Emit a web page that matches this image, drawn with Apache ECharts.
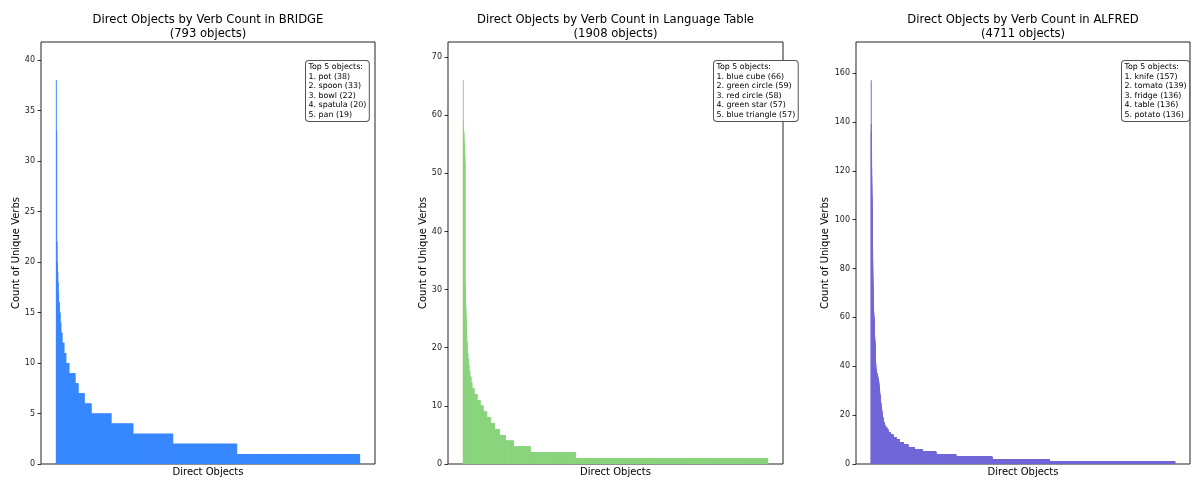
<!DOCTYPE html>
<html><head><meta charset="utf-8">
<script src="https://cdn.jsdelivr.net/npm/echarts@6/dist/echarts.min.js"></script>
<style>html,body{margin:0;padding:0;background:#fff}#c{width:1192px;height:482px}</style>
</head><body><div id="c"></div>
<script>
// ---- Data (run-length: each level repeated "count" times, sorted descending) ----
const bridgeLevels = [38,33,22,20,19,18,17,16,15,14,13,12,11,10,9,8,7,6,5,4,3,2,1];
const bridgeCounts = [1,1,1,1,1,1,1,2,2,2,3,5,5,8,16,8,16,18,52,57,104,167,321];

const langLevels = [66,59,58,57,56,55,54,53,52,31,30,29,28,27,26,25,24,23,22,21,20,19,18,17,16,15,14,13,12,11,10,9,8,7,6,5,4,3,2,1];
const langCounts = [1,1,1,2,1,3,1,1,1,1,1,1,1,1,1,1,1,2,1,2,2,3,4,3,5,7,6,13,19,19,19,23,23,25,31,38,50,105,285,1203];

const alfredLevels = [157,139,136,130,125,121,118,115,112,110,108,106,104,103,102,
  101,98,95,92,89,86,83,80,78,76,74,72,70,69,68,
  67,66,65,64,63,62,61,60,59,58,57,56,55,54,53,52,51,50,49,
  48,47,46,45,44,43,42,41,40,39,38,37,36,35,34,33,32,31,30,29,28,27,26,25,24,23,22,21,20,19,18,
  17,16,15,14,13,12,11,10,9,8,7,6,5,4,3,2,1];
const alfredCounts = [1,1,3,1,1,1,1,1,1,1,1,1,1,1,1,
  1,1,1,1,1,1,1,1,1,1,1,1,1,1,1,
  1,1,1,1,2,2,2,2,2,2,1,1,1,1,1,2,2,2,2,
  1,1,1,1,1,1,2,2,2,3,8,9,9,7,8,3,4,4,4,3,4,4,4,5,5,5,4,5,6,7,8,
  15,15,21,21,31,46,51,46,62,72,98,124,211,309,561,891,1945];

const datasetNames = ['BRIDGE','Language Table','ALFRED'];
const objectTotals = [793, 1908, 4711];
const top5Bridge = ['pot (38)','spoon (33)','bowl (22)','spatula (20)','pan (19)'];
const top5Lang = ['blue cube (66)','green circle (59)','red circle (58)','green star (57)','blue triangle (57)'];
const top5Alfred = ['knife (157)','tomato (139)','fridge (136)','table (136)','potato (136)'];

const bridgeYTicks = [0,5,10,15,20,25,30,35,40];
const langYTicks = [0,10,20,30,40,50,60,70];
const alfredYTicks = [0,20,40,60,80,100,120,140,160];
const yMaxes = [41.8, 72.6, 172.7];

// ---- Build ----
function expand(levels, counts){
  const out = []; let idx = 0;
  for (let k = 0; k < levels.length; k++) {
    for (let j = 0; j < counts[k]; j++) { out.push([idx, levels[k]]); idx++; }
  }
  return out;
}
const seriesData = [expand(bridgeLevels,bridgeCounts), expand(langLevels,langCounts), expand(alfredLevels,alfredCounts)];
const colors = ['#3787ff', '#8bd47e', '#7268d8'];
const yTicks = [bridgeYTicks, langYTicks, alfredYTicks];
const top5 = [top5Bridge, top5Lang, top5Alfred];
const grids = [{left:41,width:334},{left:448,width:335},{left:856,width:334}];
const yNameGaps = [19, 19, 25];
const boxLeft = [306, 714, 1122];
const FONT = '"DejaVu Sans", sans-serif';

const chart = echarts.init(document.getElementById('c'), null, {renderer:'canvas'});
const option = {
  animation: false,
  backgroundColor: '#fff',
  grid: grids.map(g => ({left:g.left, width:g.width, top:42, height:424, show:true, borderColor:'#222', borderWidth:1, backgroundColor:'transparent', containLabel:false})),
  xAxis: grids.map((g,i) => {
    const n = objectTotals[i];
    return {
      type:'value', gridIndex:i,
      min: -0.4 - 0.05*(n-0.2), max: n-0.6 + 0.05*(n-0.2),
      axisLine:{show:false, onZero:false}, axisTick:{show:false}, axisLabel:{show:false}, splitLine:{show:false},
      name:'Direct Objects', nameLocation:'middle', nameGap:3,
      nameTextStyle:{fontFamily:FONT, fontSize:10, color:'#000'}
    };
  }),
  yAxis: grids.map((g,i) => ({
    type:'value', gridIndex:i, min:0, max:yMaxes[i],
    axisLine:{show:false, onZero:false},
    axisTick:{show:true, inside:false, length:3.5, lineStyle:{color:'#000', width:0.8}, customValues:yTicks[i]},
    axisLabel:{fontFamily:FONT, fontSize:8, color:'#222', margin:6, customValues:yTicks[i]},
    splitLine:{show:false},
    name:'Count of Unique Verbs', nameLocation:'middle', nameGap:yNameGaps[i], nameRotate:90,
    nameTextStyle:{fontFamily:FONT, fontSize:10, color:'#000'}
  })),
  series: seriesData.map((d,i) => ({
    type:'bar', xAxisIndex:i, yAxisIndex:i, data:d, barWidth:'80%',
    itemStyle:{color:colors[i]}, progressive:0, silent:true
  })),
  graphic: [].concat(
    grids.map((g,i) => ({
      type:'text', x:g.left + g.width/2, y:13, silent:true,
      style:{text:'Direct Objects by Verb Count in ' + datasetNames[i] + '\n(' + objectTotals[i] + ' objects)',
        align:'center', verticalAlign:'top', fontFamily:FONT, fontSize:11.6, lineHeight:14, fill:'#000'}
    })),
    grids.map((g,i) => ({
      type:'text', x:boxLeft[i], y:61, silent:true, z:10,
      style:{text:'Top 5 objects:\n' + top5[i].map((t,k) => (k+1) + '. ' + t).join('\n'),
        align:'left', verticalAlign:'top', fontFamily:FONT, fontSize:7.9, lineHeight:9.5, fill:'#000',
        backgroundColor:'#fff', borderColor:'#555', borderWidth:1, borderRadius:3, padding:[1.5,2.5,1.5,2.5]}
    }))
  )
};
chart.setOption(option);
</script>
</body></html>
